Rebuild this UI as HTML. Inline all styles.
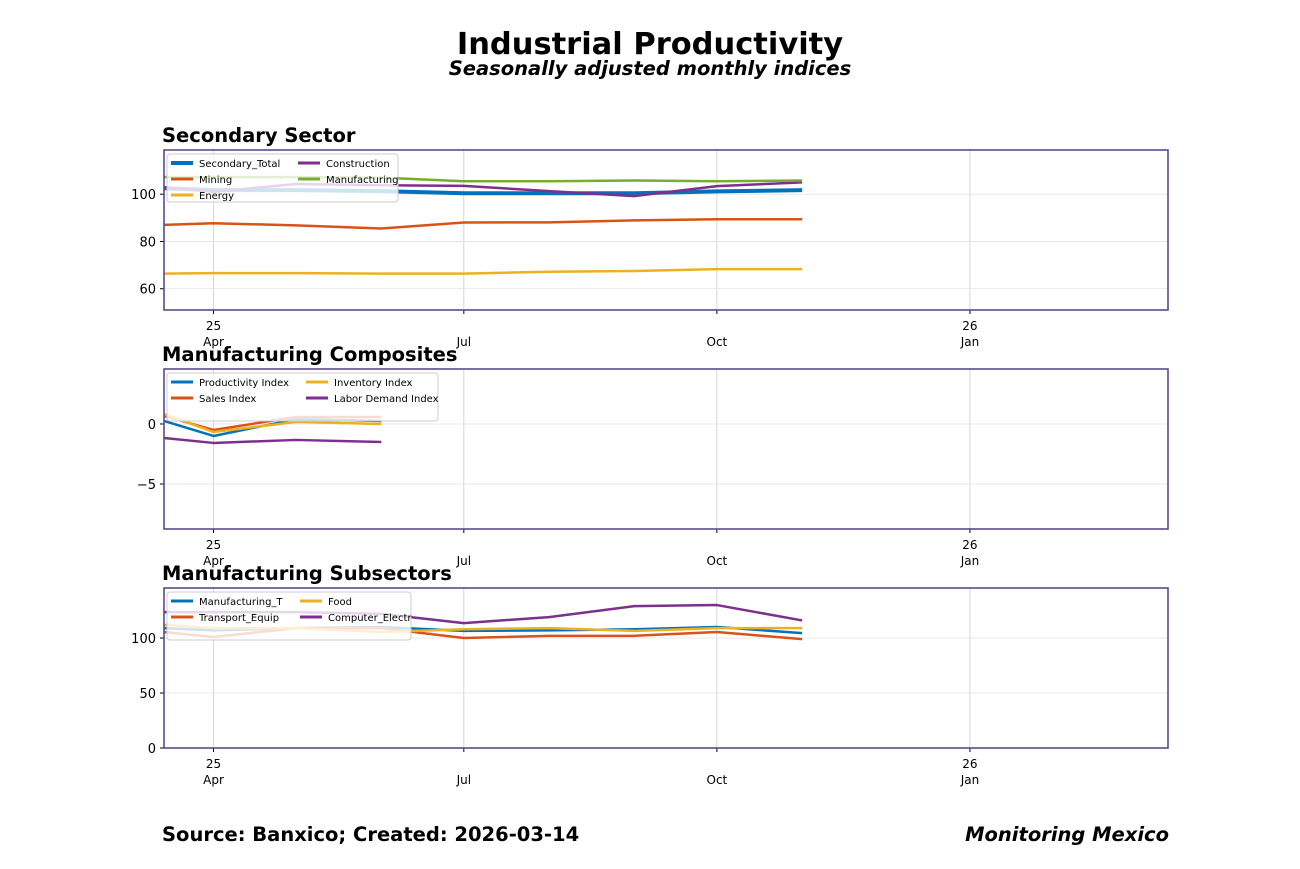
<!DOCTYPE html>
<html><head><meta charset="utf-8"><style>
body{margin:0;background:#fff;}
svg{display:block;font-family:"DejaVu Sans","Liberation Sans",sans-serif;}
</style></head><body>
<svg id="chart" width="1300" height="869" xmlns="http://www.w3.org/2000/svg">
<text x="650" y="54" text-anchor="middle" font-size="30.5" font-weight="bold">Industrial Productivity</text>
<text x="650" y="75" text-anchor="middle" font-size="19.5" font-weight="bold" font-style="italic">Seasonally adjusted monthly indices</text>
<text x="162" y="841" font-size="19.5" font-weight="bold">Source: Banxico; Created: 2026-03-14</text>
<text x="1169" y="841" text-anchor="end" font-size="19.5" font-weight="bold" font-style="italic">Monitoring Mexico</text>
</svg>
<script>
const dates = ["2025-03-14","2025-04-01","2025-05-01","2025-06-01","2025-07-01","2025-08-01","2025-09-01","2025-10-01","2025-11-01"];
const secTotal = [102.5,101.7,101.7,101.3,100.4,100.4,100.4,101.2,101.7];
const secMining = [87,87.7,86.8,85.5,88,88.1,88.9,89.4,89.4];
const secEnergy = [66.4,66.6,66.6,66.4,66.4,67.2,67.5,68.3,68.3];
const secConstruction = [103,101,104.3,103.8,103.5,101.3,99.2,103.4,105];
const secManufacturing = [107.2,107.2,107.2,107,105.5,105.5,105.8,105.5,105.8];
const compProductivity = [0.25,-1,0.4,0.25];
const compSales = [0.67,-0.5,0.58,0.58];
const compInventory = [0.83,-0.67,0.17,0];
const compLabor = [-1.17,-1.58,-1.33,-1.5];
const subManuf = [109,107,109,110,106.5,107,108,110,104.5];
const subTransport = [105.5,100.9,109,109,100,102,102,105.5,99];
const subFood = [112,109,109,105.5,108,109,106.5,109,109];
const subComputer = [123.6,123.6,123.6,122,113.6,119,129,130,116];
const xTickDates = ["2025-04-01","2025-07-01","2025-10-01","2026-01-01"];
const xTickTop = ["25","","","26"];
const xTickBottom = ["Apr","Jul","Oct","Jan"];

const NS="http://www.w3.org/2000/svg";
const svg=document.getElementById('chart');
const X0=164,X1=1168;
const d0=Date.parse("2025-03-14"),d1=Date.parse("2026-03-14");
const xs=d=>X0+(Date.parse(d)-d0)/(d1-d0)*(X1-X0);
function el(t,a,p){const e=document.createElementNS(NS,t);for(const k in a)e.setAttribute(k,a[k]);(p||svg).appendChild(e);return e;}

function panel(cfg){
  const {top,h,ymin,ymax,yticks,ylabels,title,series,legendW,name}=cfg;
  const bot=top+h;
  const ys=v=>bot-(v-ymin)/(ymax-ymin)*h;
  const g=el('g',{});
  
  
  const t=el('text',{x:162,y:top-8,'font-size':19.5,'font-weight':'bold'},g);t.textContent=title;
  
  
  xTickDates.forEach((d,i)=>{
    const x=xs(d);
    const gl=el('line',{x1:x,x2:x,y1:top,y2:bot,stroke:'#ccc','stroke-width':0.8},g);
    
    
    el('line',{x1:x,x2:x,y1:bot,y2:bot+4,stroke:'#000'},g);
    const a=el('text',{x:x,y:bot+20,'text-anchor':'middle','font-size':12},g);a.textContent=xTickTop[i];
    
    
    const b=el('text',{x:x,y:bot+36,'text-anchor':'middle','font-size':12},g);b.textContent=xTickBottom[i];
    
    
  });
  yticks.forEach((v,i)=>{
    const y=ys(v);
    const gl=el('line',{x1:X0,x2:X1,y1:y,y2:y,stroke:'#e3e3e3','stroke-width':0.8},g);
    
    
    el('line',{x1:X0-4,x2:X0,y1:y,y2:y,stroke:'#000'},g);
    const tx=el('text',{x:X0-8,y:y+5,'text-anchor':'end','font-size':13},g);tx.textContent=ylabels[i];
    
    
  });
  series.forEach(s=>{
    const pts=s.v.map((v,i)=>xs(dates[i])+','+ys(v)).join(' ');
    const p=el('polyline',{points:pts,fill:'none',stroke:s.c,'stroke-width':s.w||2.5,'stroke-linejoin':'round'},g);
    
    
  });
  const lg=el('g',{},g);
  
  
  el('rect',{x:167,y:top+4,width:legendW,height:48,rx:3,fill:'#fff','fill-opacity':0.8,stroke:'#ccc'},lg);
  series.forEach((s,i)=>{
    const col=i<3&&series.length===5?0:(series.length===5?1:Math.floor(i/2));
    const row=series.length===5?(i<3?i:i-3):i%2;
    const lx=171+col*(cfg.colW), ly=top+13+row*16;
    el('line',{x1:lx,x2:lx+22,y1:ly,y2:ly,stroke:s.c,'stroke-width':s.w?4:3},lg);
    const tx=el('text',{x:lx+28,y:ly+4,'font-size':10},lg);tx.textContent=s.n;
    
    
  });
  const fr=el('rect',{x:X0,y:top,width:X1-X0,height:h,fill:'none',stroke:'#5b4a8a','stroke-width':1.6},g);
  
  
}
panel({name:'secondary-sector',top:150,h:160,ymin:51,ymax:118.7,yticks:[60,80,100],ylabels:['60','80','100'],title:'Secondary Sector',legendW:231,colW:127,
 series:[{n:'Secondary_Total',v:secTotal,c:'#0072bd',w:4},{n:'Mining',v:secMining,c:'#d95319'},{n:'Energy',v:secEnergy,c:'#edb120'},{n:'Construction',v:secConstruction,c:'#7e2f8e'},{n:'Manufacturing',v:secManufacturing,c:'#77ac30'}]});
panel({name:'manufacturing-composites',top:369,h:160,ymin:-8.75,ymax:4.58,yticks:[-5,0],ylabels:['−5','0'],title:'Manufacturing Composites',legendW:271,colW:135,
 series:[{n:'Productivity Index',v:compProductivity,c:'#0072bd'},{n:'Sales Index',v:compSales,c:'#d95319'},{n:'Inventory Index',v:compInventory,c:'#edb120'},{n:'Labor Demand Index',v:compLabor,c:'#7e2f8e'}]});
panel({name:'manufacturing-subsectors',top:588,h:160,ymin:0,ymax:145.5,yticks:[0,50,100],ylabels:['0','50','100'],title:'Manufacturing Subsectors',legendW:244,colW:129,
 series:[{n:'Manufacturing_T',v:subManuf,c:'#0072bd'},{n:'Transport_Equip',v:subTransport,c:'#d95319'},{n:'Food',v:subFood,c:'#edb120'},{n:'Computer_Electr',v:subComputer,c:'#7e2f8e'}]});
</script>
</body></html>
